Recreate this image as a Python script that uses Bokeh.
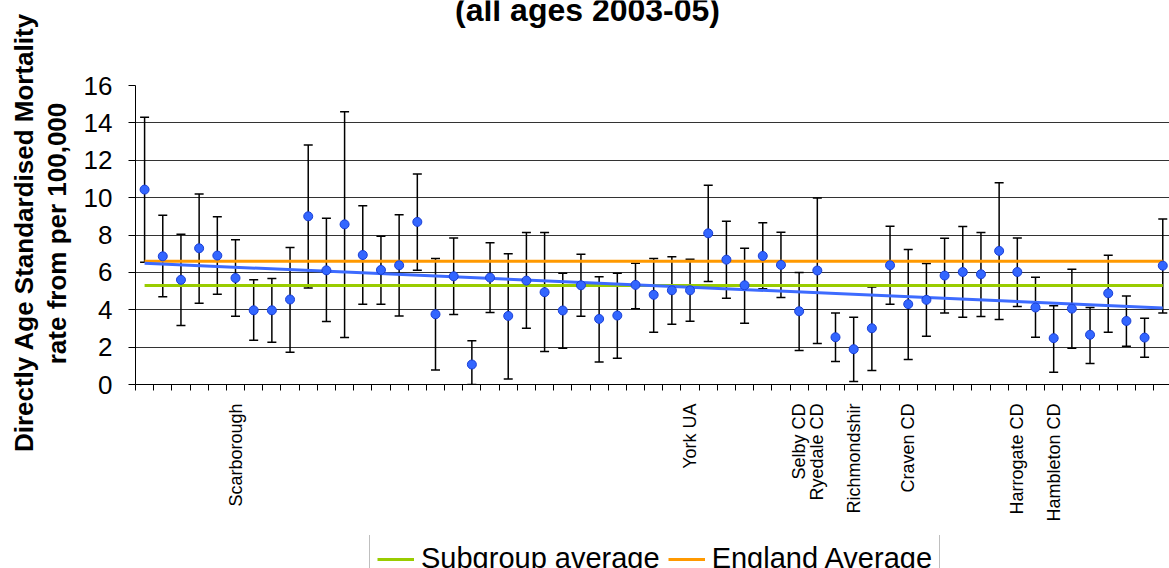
import numpy as np
from bokeh.plotting import figure
from bokeh.layouts import column, row
from bokeh.models import (ColumnDataSource, Whisker, TeeHead, Range1d, FixedTicker,
                          Legend, LegendItem, Label)
from bokeh.embed import file_html
from bokeh.resources import INLINE

# ---------------- data ----------------
values = [10.43, 6.86, 5.60, 7.29, 6.90, 5.70, 3.97, 3.97, 4.55, 9.00,
          6.11, 8.57, 6.93, 6.13, 6.38, 8.70, 3.76, 5.79, 1.07, 5.72,
          3.67, 5.56, 4.94, 3.96, 5.31, 3.51, 3.69, 5.33, 4.80, 5.04,
          5.04, 8.09, 6.68, 5.31, 6.88, 6.40, 3.92, 6.10, 2.53, 1.89,
          3.01, 6.38, 4.30, 4.53, 5.83, 6.02, 5.90, 7.15, 6.02, 4.12,
          2.48, 4.06, 2.66, 4.88, 3.40, 2.51, 6.36]
upper = [14.30, 9.06, 8.04, 10.20, 8.98, 7.75, 5.60, 5.67, 7.33, 12.82,
         8.90, 14.60, 9.57, 7.93, 9.09, 11.27, 6.74, 7.84, 2.34, 7.58,
         7.00, 8.13, 8.13, 5.95, 6.97, 5.76, 5.95, 6.49, 6.74, 6.84,
         6.70, 10.66, 8.73, 7.29, 8.65, 8.15, 6.00, 9.98, 3.83, 3.60,
         5.22, 8.47, 7.22, 6.47, 7.83, 8.45, 8.13, 10.80, 7.84, 5.74,
         4.22, 6.17, 4.12, 6.92, 4.74, 3.55, 8.86]
lower = [6.54, 4.69, 3.16, 4.35, 4.83, 3.65, 2.37, 2.26, 1.73, 5.17,
         3.37, 2.51, 4.30, 4.30, 3.67, 6.11, 0.78, 3.74, 0.00, 3.85,
         0.29, 3.01, 1.76, 1.94, 3.65, 1.21, 1.41, 4.06, 2.80, 3.23,
         3.39, 5.51, 4.62, 3.28, 5.13, 4.65, 1.82, 2.19, 1.23, 0.16,
         0.75, 4.30, 1.34, 2.58, 3.83, 3.60, 3.64, 3.48, 4.17, 2.53,
         0.66, 1.94, 1.12, 2.80, 2.05, 1.46, 3.83]
label_index = [5, 30, 36, 37, 39, 42, 48, 50]
label_text = ["Scarborough", "York UA", "Selby CD", "Ryedale CD",
              "Richmondshir", "Craven CD", "Harrogate CD", "Hambleton CD"]
subgroup_average = 5.3
england_average = 6.6
y_ticks = [0, 2, 4, 6, 8, 10, 12, 14, 16]

title_text = "(all ages 2003-05)"
ylabel_line1 = "Directly Age Standardised Mortality"
ylabel_line2 = "rate from per 100,000"
legend_labels = ["Subgroup average", "England Average"]

# ---------------- layout (page pixels) ----------------
W, H = 1169, 568
LW = 72               # left strip holding the two-line y label
H_TITLE = 30          # title strip (its top is cut off, as in the reference)
H_LEG = 33            # legend strip (its bottom is cut off, as in the reference)
H_MAIN = H - H_TITLE - H_LEG
CW = W - LW
LEFT = 135            # page x of the plot's left edge
AXIS_Y = 384          # page y of value 0
TOP16 = 85            # page y of value 16
n = len(values)
x0, x1 = -0.5, 56.37
FONT = "Liberation Sans"

def blank(fig):
    fig.axis.visible = False
    fig.grid.grid_line_color = None
    fig.outline_line_color = None
    fig.border_fill_color = "white"
    fig.background_fill_color = "white"

idx = list(range(n))
src = ColumnDataSource(dict(x=idx, v=values, up=upper, lo=lower))

# ---------------- y-label strip ----------------
py_ = figure(width=LW, height=H, output_backend="svg", toolbar_location=None,
             x_range=Range1d(0, LW), y_range=Range1d(H, 0), min_border=0)
blank(py_)
py_.add_layout(Label(x=23, y=232, text=ylabel_line1, angle=np.pi / 2,
                     text_align="center", text_baseline="middle", text_font=FONT,
                     text_font_size="26px", text_font_style="bold", text_color="black"))
py_.add_layout(Label(x=56, y=233, text=ylabel_line2, angle=np.pi / 2,
                     text_align="center", text_baseline="middle", text_font=FONT,
                     text_font_size="26px", text_font_style="bold", text_color="black"))

# ---------------- title strip ----------------
pt = figure(width=CW, height=H_TITLE, output_backend="svg", toolbar_location=None,
            x_range=Range1d(LEFT, W), y_range=Range1d(0, H_TITLE),
            min_border_left=LEFT - LW, min_border_right=0, min_border_top=0, min_border_bottom=0)
blank(pt)
pt.add_layout(Label(x=587, y=H_TITLE - 9, text=title_text, text_align="center",
                    text_baseline="alphabetic", text_font=FONT, text_font_size="32px",
                    text_font_style="bold", text_color="black"))

# ---------------- main chart ----------------
p = figure(width=CW, height=H_MAIN, output_backend="svg", toolbar_location=None,
           x_range=Range1d(x0, x1), y_range=Range1d(0, 16),
           min_border_left=LEFT - LW, min_border_right=0, min_border_top=TOP16 - H_TITLE,
           min_border_bottom=H_TITLE + H_MAIN - AXIS_Y)
p.outline_line_color = None
p.background_fill_color = "white"
p.border_fill_color = "white"

p.yaxis.ticker = FixedTicker(ticks=y_ticks, minor_ticks=[])
p.yaxis.major_label_text_font = FONT
p.yaxis.major_label_text_font_size = "26px"
p.yaxis.major_label_text_color = "black"
p.yaxis.major_tick_out = 7
p.yaxis.major_tick_in = 0
p.yaxis.major_tick_line_color = "black"
p.yaxis.minor_tick_line_color = None
p.yaxis.axis_line_color = "black"
p.yaxis.major_label_standoff = 16

boundaries = [i - 0.5 for i in range(n + 1)]
p.xaxis.ticker = FixedTicker(ticks=label_index, minor_ticks=boundaries)
p.xaxis.major_label_overrides = {i: t for i, t in zip(label_index, label_text)}
p.xaxis.major_label_orientation = np.pi / 2
p.xaxis.major_label_text_font = FONT
p.xaxis.major_label_text_font_size = "18px"
p.xaxis.major_label_text_color = "black"
p.xaxis.major_tick_out = 0
p.xaxis.major_tick_in = 0
p.xaxis.major_tick_line_color = None
p.xaxis.minor_tick_out = 6
p.xaxis.minor_tick_in = 0
p.xaxis.minor_tick_line_color = "black"
p.xaxis.axis_line_color = "black"
p.xaxis.major_label_standoff = 13

p.xgrid.grid_line_color = None
p.ygrid.ticker = FixedTicker(ticks=y_ticks)
p.ygrid.grid_line_color = "#333333"
p.ygrid.grid_line_width = 1

wh = Whisker(base="x", upper="up", lower="lo", source=src, dimension="height",
             line_color="black", line_width=1.5,
             upper_head=TeeHead(size=9, line_color="black", line_width=1.5),
             lower_head=TeeHead(size=9, line_color="black", line_width=1.5))
p.add_layout(wh)

p.line([0, n - 1], [subgroup_average, subgroup_average], line_color="#99CC00", line_width=3)
p.line([0, n - 1], [england_average, england_average], line_color="#FF9900", line_width=3)

coef = np.polyfit(idx, values, 1)          # linear trend of the series
tx = np.array([0, n - 1])
p.line(tx, np.polyval(coef, tx), line_color="#3D6BFF", line_width=3)

p.scatter("x", "v", source=src, size=9, fill_color="#3366FF", line_color="#1A3FD6", line_width=1)

# ---------------- legend strip ----------------
pl = figure(width=CW, height=H_LEG, output_backend="svg", toolbar_location=None,
            x_range=Range1d(0, 1), y_range=Range1d(0, 1),
            min_border_left=LEFT - LW, min_border_right=0, min_border_top=0, min_border_bottom=0)
blank(pl)
gl = pl.line([5, 6], [subgroup_average, subgroup_average], line_color="#99CC00", line_width=3)
ol = pl.line([5, 6], [england_average, england_average], line_color="#FF9900", line_width=3)
legend = Legend(items=[LegendItem(label=legend_labels[0], renderers=[gl]),
                       LegendItem(label=legend_labels[1], renderers=[ol])],
                orientation="horizontal", location=(369 - LEFT, H_LEG - 48),
                label_text_font=FONT, label_text_font_size="29px",
                label_text_color="black", border_line_color="#808080",
                border_line_width=1, padding=7, spacing=8, label_standoff=7,
                glyph_width=37, glyph_height=20, margin=0,
                background_fill_color="white", background_fill_alpha=1)
pl.add_layout(legend)

layout = row(py_, column(pt, p, pl, spacing=0), spacing=0)
open("out.html", "w").write(file_html(layout, INLINE))
